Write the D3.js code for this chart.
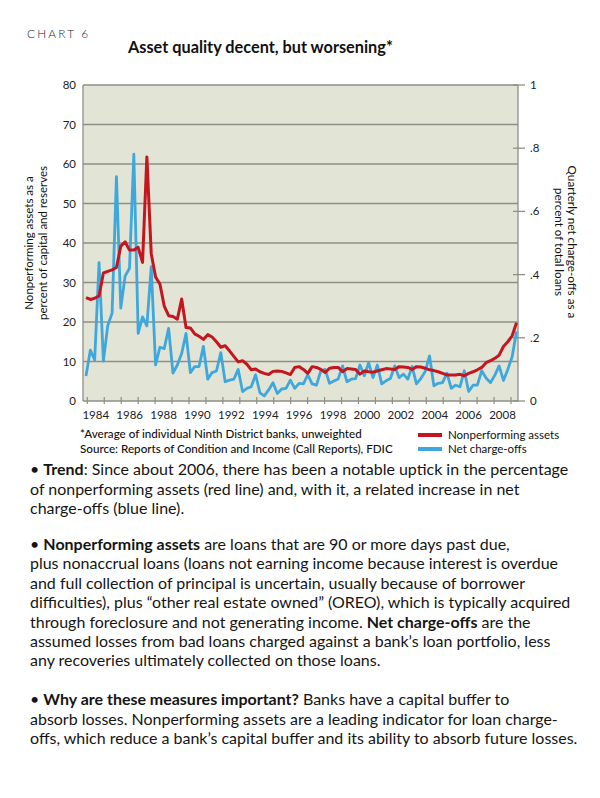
<!DOCTYPE html>
<html><head><meta charset="utf-8">
<script src="https://cdn.jsdelivr.net/npm/d3@7"></script>
<style>body{margin:0;background:#fff}svg{display:block}</style>
</head><body>
<script>
// ---------- DATA ----------
const years = [1984,1985,1986,1987,1988,1989,1990,1991,1992,1993,1994,1995,1996,1997,1998,1999,2000,2001,2002,2003,2004,2005,2006,2007,2008];
const quarterNames = ["Q1","Q2","Q3","Q4"];
const quarters = years.flatMap(y => quarterNames.map(q => y + q));
// Nonperforming assets, % of capital and reserves (left axis)
const nonperforming = [
26.2,25.7,26.0,26.6,32.4,32.8,33.2,33.8,39.2,40.3,
38.2,38.2,38.9,35.1,61.8,37.3,31.4,29.6,24.0,21.6,
21.4,20.7,25.8,18.6,18.5,17.0,16.4,15.6,16.8,16.2,
15.0,13.6,14.0,12.7,11.3,9.9,10.2,9.3,7.9,8.1,
7.4,7.0,6.7,7.5,7.6,7.5,7.1,6.7,8.5,8.7,
8.0,7.0,8.7,8.5,8.0,7.2,8.3,8.5,8.5,7.4,
8.2,8.1,8.0,6.8,7.6,7.4,7.3,7.6,7.9,8.2,
8.1,8.0,8.7,8.6,8.5,8.0,8.7,8.6,8.3,7.9,
7.7,7.4,7.0,6.6,6.6,6.6,6.75,6.4,7.0,7.4,
7.9,8.5,9.7,10.2,10.8,11.6,13.8,15.0,16.5,19.8];
// Quarterly net charge-offs, % of total loans (right axis)
const netChargeOffs = [
.079,.161,.130,.438,.126,.238,.278,.710,.294,.395,
.420,.781,.214,.266,.238,.425,.114,.170,.166,.230,
.088,.114,.150,.214,.090,.109,.109,.173,.069,.090,
.095,.153,.061,.066,.069,.100,.030,.040,.045,.083,
.026,.016,.035,.058,.024,.038,.040,.066,.040,.056,
.054,.083,.054,.050,.095,.100,.056,.063,.070,.111,
.061,.069,.071,.114,.080,.121,.074,.114,.054,.064,
.071,.111,.074,.085,.069,.109,.054,.071,.093,.143,
.048,.056,.058,.088,.040,.050,.045,.096,.030,.050,
.050,.096,.073,.058,.081,.111,.065,.100,.140,.220];
const leftTicks = [0,10,20,30,40,50,60,70,80];
const rightTicks = [0,0.2,0.4,0.6,0.8,1];
const rightTickLabels = ["0",".2",".4",".6",".8","1"];
const tickYears = [1984,1985,1986,1987,1988,1989,1990,1991,1992,1993,1994,1995,1996,1997,1998,1999,2000,2001,2002,2003,2004,2005,2006,2007,2008,2009];
const yearLabels = [1984,1986,1988,1990,1992,1994,1996,1998,2000,2002,2004,2006,2008];
const seriesNames = ["Nonperforming assets","Net charge-offs"];

// ---------- LAYOUT ----------
const W = 600, H = 798;
const FONT = "Lato, 'Open Sans', sans-serif";
const RED = "#c3161f", BLUE = "#3ea8dd", GRID = "#8e8f86", BG = "#e2e4d6";
const pl = 83, pr = 518, pt = 85, pb = 401;

const svg = d3.select("body").append("svg").attr("width", W).attr("height", H)
  .style("background", "#fff").attr("font-family", FONT);

function fit(sel, target) {
  const w = sel.node().getComputedTextLength();
  const fs = parseFloat(sel.attr("font-size"));
  sel.attr("font-size", fs * target / w);
  return sel;
}

const yL = d3.scaleLinear().domain([0, 80]).range([pb, pt]);
const yR = d3.scaleLinear().domain([0, 1]).range([pb, pt]);
const xQ = d3.scalePoint().domain(quarters).range([86, 516.5]);
const xY = d3.scaleLinear().domain([1984, 2009]).range([87.3, 511]);

// plot background
svg.append("rect").attr("x", pl).attr("y", pt).attr("width", pr - pl).attr("height", pb - pt).attr("fill", BG);

// gridlines
svg.append("g").selectAll("line").data(leftTicks.filter(d => d > 0)).join("line")
  .attr("x1", pl).attr("x2", pr).attr("y1", d => yL(d)).attr("y2", d => yL(d))
  .attr("stroke", GRID).attr("stroke-width", 1.3);

// axes lines
svg.append("line").attr("x1", pl).attr("x2", pl).attr("y1", pt).attr("y2", pb).attr("stroke", GRID).attr("stroke-width", 1.3);
svg.append("line").attr("x1", pr).attr("x2", pr).attr("y1", pt).attr("y2", pb).attr("stroke", GRID).attr("stroke-width", 1.3);
svg.append("line").attr("x1", pl).attr("x2", pr).attr("y1", pb).attr("y2", pb).attr("stroke", GRID).attr("stroke-width", 1.3);

// left tick labels
svg.append("g").selectAll("text").data(leftTicks).join("text")
  .attr("x", 76).attr("y", d => yL(d) + 4).attr("text-anchor", "end")
  .attr("font-size", 11.5).attr("fill", "#222").text(d => d);

// right ticks + labels
svg.append("g").selectAll("line").data(rightTicks).join("line")
  .attr("x1", 513).attr("x2", 525).attr("y1", d => yR(d)).attr("y2", d => yR(d))
  .attr("stroke", GRID).attr("stroke-width", 1.3);
svg.append("g").selectAll("text").data(rightTicks).join("text")
  .attr("x", 530).attr("y", d => yR(d) + 4).attr("text-anchor", "start")
  .attr("font-size", 11.5).attr("fill", "#222").text((d, i) => rightTickLabels[i]);

// bottom ticks
svg.append("g").selectAll("line").data(tickYears).join("line")
  .attr("x1", d => xY(d)).attr("x2", d => xY(d)).attr("y1", 397).attr("y2", 404)
  .attr("stroke", GRID).attr("stroke-width", 1.2);
svg.append("g").selectAll("text").data(yearLabels).join("text")
  .attr("x", d => xY(d + 0.5)).attr("y", 419).attr("text-anchor", "middle")
  .attr("font-size", 11.5).attr("fill", "#222").text(d => d);

// series lines
const lineL = d3.line().x((d, i) => xQ(quarters[i])).y(d => yL(d));
const lineR = d3.line().x((d, i) => xQ(quarters[i])).y(d => yR(d));
svg.append("path").datum(netChargeOffs).attr("d", lineR).attr("fill", "none")
  .attr("stroke", BLUE).attr("stroke-width", 2.8).attr("stroke-linejoin", "round");
svg.append("path").datum(nonperforming).attr("d", lineL).attr("fill", "none")
  .attr("stroke", RED).attr("stroke-width", 3).attr("stroke-linejoin", "round");

// axis titles
const lt = svg.append("g").attr("transform", "translate(0,243) rotate(-90)");
lt.append("text").attr("x", 0).attr("y", 33).attr("text-anchor", "middle").attr("font-size", 11.5).attr("fill", "#111").text("Nonperforming assets as a");
lt.append("text").attr("x", 0).attr("y", 47).attr("text-anchor", "middle").attr("font-size", 11.5).attr("fill", "#111").text("percent of capital and reserves");
const rt = svg.append("g").attr("transform", "translate(0,242) rotate(90)");
fit(rt.append("text").attr("x", 0).attr("y", -568).attr("text-anchor", "middle").attr("font-size", 11.5).attr("fill", "#111").text("Quarterly net charge-offs as a"), 153);
fit(rt.append("text").attr("x", 0).attr("y", -555).attr("text-anchor", "middle").attr("font-size", 11.5).attr("fill", "#111").text("percent of total loans"), 108);

// titles
fit(svg.append("text").attr("x", 27).attr("y", 38).attr("font-size", 13).attr("letter-spacing", 2.2)
  .attr("font-weight", 300).attr("fill", "#222").text("CHART 6"), 62);
fit(svg.append("text").attr("x", 128).attr("y", 53).attr("font-size", 17).attr("font-weight", 700)
  .attr("fill", "#111").text("Asset quality decent, but worsening*"), 265);

// footnotes
fit(svg.append("text").attr("x", 80).attr("y", 438).attr("font-size", 11.5).attr("font-weight", 500).attr("fill", "#111")
  .text("*Average of individual Ninth District banks, unweighted"), 282);
fit(svg.append("text").attr("x", 80).attr("y", 453).attr("font-size", 11.5).attr("font-weight", 500).attr("fill", "#111")
  .text("Source: Reports of Condition and Income (Call Reports), FDIC"), 313);

// legend
const leg = svg.append("g");
[RED, BLUE].forEach((c, i) => {
  leg.append("line").attr("x1", 418).attr("x2", 442).attr("y1", 435 + i * 14).attr("y2", 435 + i * 14)
    .attr("stroke", c).attr("stroke-width", 4);
  leg.append("text").attr("x", 448).attr("y", 439 + i * 14).attr("font-size", 11.5).attr("fill", "#111").text(seriesNames[i]);
});

// body text
const body = [
  [[ "• ", 0], ["Trend", 1], [": Since about 2006, there has been a notable uptick in the percentage", 0]],
  [[ "of nonperforming assets (red line) and, with it, a related increase in net", 0]],
  [[ "charge-offs (blue line).", 0]],
  null,
  [[ "• ", 0], ["Nonperforming assets", 1], [" are loans that are 90 or more days past due,", 0]],
  [[ "plus nonaccrual loans (loans not earning income because interest is overdue", 0]],
  [[ "and full collection of principal is uncertain, usually because of borrower", 0]],
  [[ "difficulties), plus \u201Cother real estate owned\u201D (OREO), which is typically acquired", 0]],
  [[ "through foreclosure and not generating income. ", 0], ["Net charge-offs", 1], [" are the", 0]],
  [[ "assumed losses from bad loans charged against a bank\u2019s loan portfolio, less", 0]],
  [[ "any recoveries ultimately collected on those loans.", 0]],
  null,
  [[ "• ", 0], ["Why are these measures important?", 1], [" Banks have a capital buffer to", 0]],
  [[ "absorb losses. Nonperforming assets are a leading indicator for loan charge-", 0]],
  [[ "offs, which reduce a bank\u2019s capital buffer and its ability to absorb future losses.", 0]]
];
const baselines = [475, 495, 514, null, 550, 569, 589, 608, 628, 647, 666, null, 705, 725, 744];
const bodyTexts = [];
body.forEach((ln, i) => {
  if (!ln) return;
  const t = svg.append("text").attr("x", 30).attr("y", baselines[i]).attr("font-size", 14).attr("fill", "#151515");
  ln.forEach(([s, b]) => t.append("tspan").attr("font-weight", b ? 700 : 400).text(s));
  bodyTexts.push(t);
});
const last = bodyTexts[bodyTexts.length - 1];
const scale = 548 / last.node().getComputedTextLength();
bodyTexts.forEach(t => t.attr("font-size", 14 * scale));
</script>
</body></html>
